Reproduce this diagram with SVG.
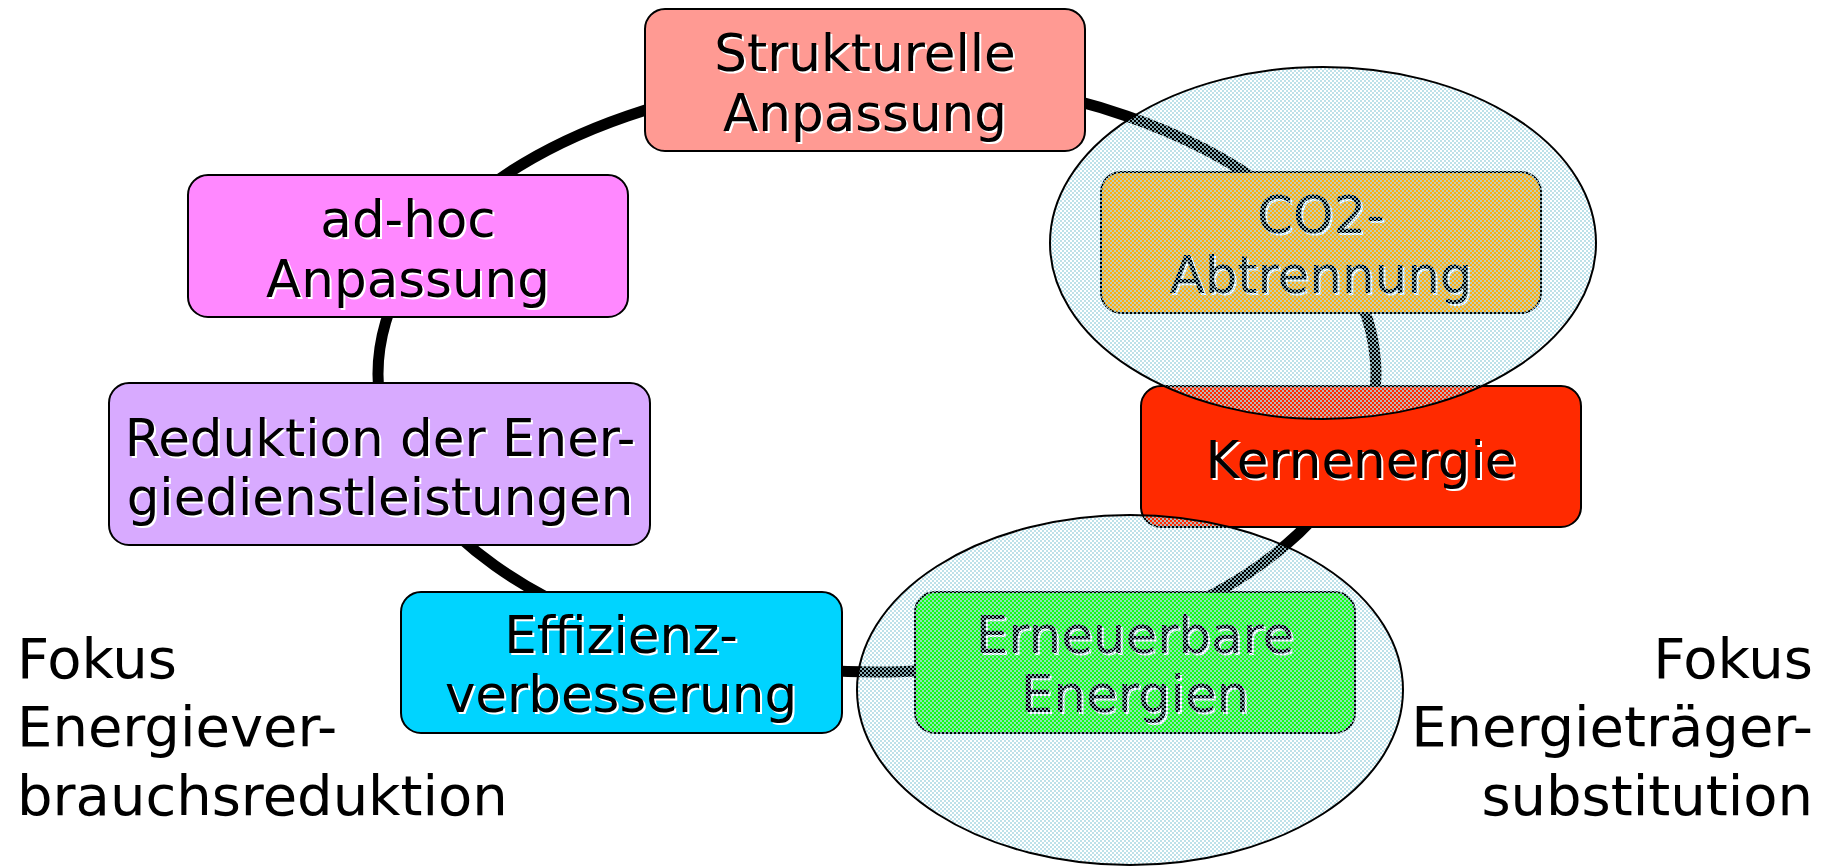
<svg xmlns="http://www.w3.org/2000/svg" width="1834" height="866" viewBox="0 0 1834 866">
  <defs>
    <pattern id="chk" width="4" height="4" patternUnits="userSpaceOnUse">
      <rect x="0" y="0" width="2" height="2" fill="#acd9e3" fill-opacity="0.8"/>
      <rect x="2" y="2" width="2" height="2" fill="#acd9e3" fill-opacity="0.8"/>
    </pattern>
  </defs>
  <style>
    .box { stroke: #000; stroke-width: 2; }
    .t { font-family: "DejaVu Sans", Verdana, "Liberation Sans", sans-serif; font-size: 51.5px; text-anchor: middle; fill: #000; }
    .sh { fill: #fff; }
    .side { font-family: "DejaVu Sans", Verdana, "Liberation Sans", sans-serif; font-size: 56px; fill: #000; }
    .ring { fill: none; stroke: #000; stroke-width: 11; }
    .ov { fill: url(#chk); stroke: #000; stroke-width: 2; }
  </style>
  <rect width="1834" height="866" fill="#fff"/>

  <g id="connectors">
    <path class="ring" d="M877,76 A499,298 0 0 1 1309.1,225"/>
    <path class="ring" d="M1309.1,225 A499,298 0 0 1 1329.2,499.9"/>
    <path class="ring" d="M1329.2,499.9 A499,298 0 0 1 1087.9,644.1"/>
    <path class="ring" d="M1087.9,644.1 A499,298 0 0 1 706.3,654"/>
    <path class="ring" d="M706.3,654 A499,298 0 0 1 385.6,425.7"/>
    <path class="ring" d="M385.6,425.7 A499,298 0 0 1 444.9,225"/>
    <path class="ring" d="M444.9,225 A499,298 0 0 1 877,76"/>
  </g>

  <g id="node-strukturelle">
    <rect class="box" x="645" y="9" width="440" height="142" rx="20" fill="#ff9a93"/>
    <text class="t sh" x="867" y="73">Strukturelle</text>
    <text class="t" x="865" y="71">Strukturelle</text>
    <text class="t sh" x="867" y="133">Anpassung</text>
    <text class="t" x="865" y="131">Anpassung</text>
  </g>

  <g id="node-adhoc">
    <rect class="box" x="188" y="175" width="440" height="142" rx="20" fill="#ff88ff"/>
    <text class="t sh" x="410" y="239">ad-hoc</text>
    <text class="t" x="408" y="237">ad-hoc</text>
    <text class="t sh" x="410" y="299">Anpassung</text>
    <text class="t" x="408" y="297">Anpassung</text>
  </g>

  <g id="node-reduktion">
    <rect class="box" x="109" y="383" width="541" height="162" rx="20" fill="#d8aaff"/>
    <text class="t sh" x="382" y="458">Reduktion der Ener-</text>
    <text class="t" x="380" y="456">Reduktion der Ener-</text>
    <text class="t sh" x="382" y="517">giedienstleistungen</text>
    <text class="t" x="380" y="515">giedienstleistungen</text>
  </g>

  <g id="node-effizienz">
    <rect class="box" x="401" y="592" width="441" height="141" rx="20" fill="#00d4ff"/>
    <text class="t sh" x="623" y="655">Effizienz-</text>
    <text class="t" x="621" y="653">Effizienz-</text>
    <text class="t sh" x="623" y="714">verbesserung</text>
    <text class="t" x="621" y="712">verbesserung</text>
  </g>

  <g id="node-kernenergie">
    <rect class="box" x="1141" y="386" width="440" height="141" rx="20" fill="#ff2a00"/>
    <text class="t sh" x="1363" y="480">Kernenergie</text>
    <text class="t" x="1361" y="478">Kernenergie</text>
  </g>

  <g id="node-co2">
    <rect class="box" x="1101" y="172" width="440" height="141" rx="20" fill="#ffad12"/>
    <text class="t sh" x="1323" y="235">CO2-</text>
    <text class="t" x="1321" y="233">CO2-</text>
    <text class="t sh" x="1323" y="295">Abtrennung</text>
    <text class="t" x="1321" y="293">Abtrennung</text>
  </g>

  <g id="node-erneuerbare">
    <rect class="box" x="915" y="592" width="440" height="141" rx="20" fill="#14ff14"/>
    <text class="t sh" x="1137" y="655">Erneuerbare</text>
    <text class="t" x="1135" y="653">Erneuerbare</text>
    <text class="t sh" x="1137" y="714">Energien</text>
    <text class="t" x="1135" y="712">Energien</text>
  </g>

  <g id="overlay-top">
    <ellipse class="ov" cx="1323" cy="243" rx="273" ry="176"/>
  </g>
  <g id="overlay-bottom">
    <ellipse class="ov" cx="1130" cy="690" rx="273" ry="175"/>
  </g>

  <g id="label-left">
    <text class="side" x="17" y="678">Fokus</text>
    <text class="side" x="17" y="746">Energiever-</text>
    <text class="side" x="17" y="815">brauchsreduktion</text>
  </g>
  <g id="label-right">
    <text class="side" x="1813" y="678" text-anchor="end">Fokus</text>
    <text class="side" x="1813" y="746" text-anchor="end">Energieträger-</text>
    <text class="side" x="1813" y="815" text-anchor="end">substitution</text>
  </g>
</svg>
